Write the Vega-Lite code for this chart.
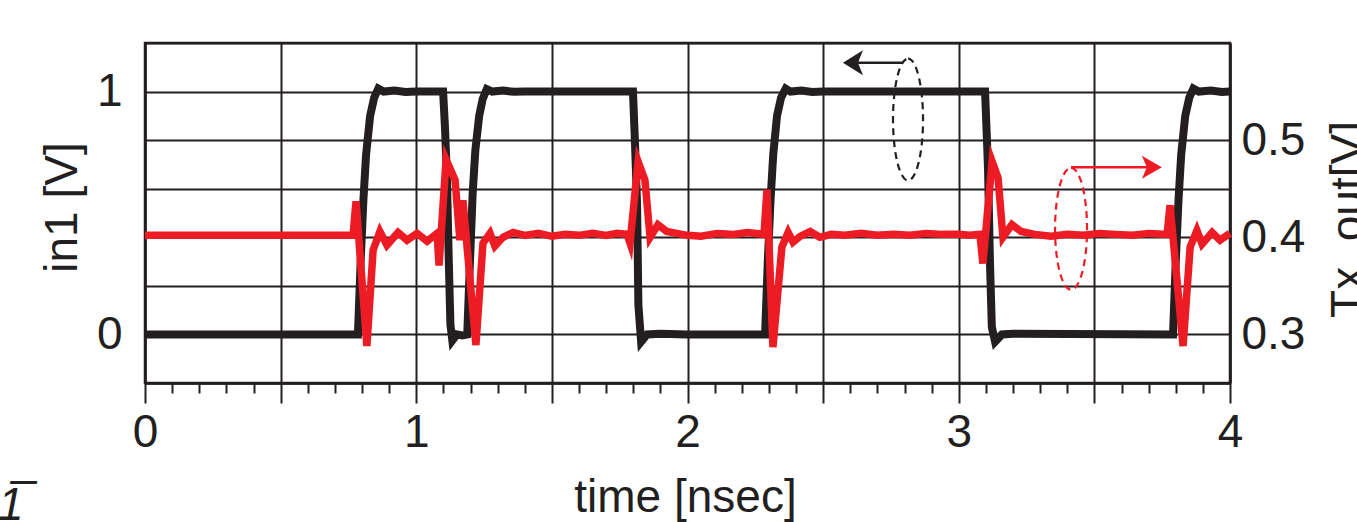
{
  "$schema": "https://vega.github.io/schema/vega-lite/v6.json",
  "width": 1085,
  "height": 340,
  "autosize": {"type": "none"},
  "padding": {"left": 145, "top": 43, "right": 127, "bottom": 139},
  "background": "white",
  "title": {"text": "1̅", "orient": "bottom", "anchor": "start", "frame": "group", "offset": -36, "dx": -147, "fontSize": 46, "fontStyle": "italic", "fontWeight": "normal", "color": "#231f20", "font": "Liberation Sans", "baseline": "top"},
  "datasets": {
    "in1": [
      {"t": 0, "v": 0}, {"t": 0.4, "v": 0}, {"t": 0.785, "v": 0}, {"t": 0.795, "v": 0.3}, {"t": 0.805, "v": 0.55},
      {"t": 0.815, "v": 0.74}, {"t": 0.83, "v": 0.9}, {"t": 0.845, "v": 0.975}, {"t": 0.86, "v": 1.012}, {"t": 0.88, "v": 1.0},
      {"t": 0.92, "v": 1.004}, {"t": 0.96, "v": 0.998}, {"t": 1.0, "v": 1.0}, {"t": 1.05, "v": 1.0}, {"t": 1.099, "v": 1.0},
      {"t": 1.106, "v": 0.85}, {"t": 1.113, "v": 0.65}, {"t": 1.12, "v": 0.3}, {"t": 1.126, "v": 0.04}, {"t": 1.133, "v": -0.025},
      {"t": 1.15, "v": 0.0}, {"t": 1.17, "v": -0.004}, {"t": 1.188, "v": 0}, {"t": 1.198, "v": 0.3}, {"t": 1.208, "v": 0.58},
      {"t": 1.218, "v": 0.76}, {"t": 1.232, "v": 0.9}, {"t": 1.245, "v": 0.97}, {"t": 1.26, "v": 1.01}, {"t": 1.28, "v": 1.0},
      {"t": 1.32, "v": 1.004}, {"t": 1.36, "v": 0.999}, {"t": 1.4, "v": 1.0}, {"t": 1.6, "v": 1.0}, {"t": 1.799, "v": 1.0},
      {"t": 1.806, "v": 0.8}, {"t": 1.814, "v": 0.54}, {"t": 1.819, "v": 0.12}, {"t": 1.829, "v": -0.03}, {"t": 1.851, "v": 0.0},
      {"t": 1.9, "v": 0.003}, {"t": 2.0, "v": 0}, {"t": 2.286, "v": 0}, {"t": 2.296, "v": 0.3}, {"t": 2.306, "v": 0.55},
      {"t": 2.316, "v": 0.74}, {"t": 2.33, "v": 0.9}, {"t": 2.345, "v": 0.975}, {"t": 2.362, "v": 1.012}, {"t": 2.38, "v": 1.0},
      {"t": 2.42, "v": 1.004}, {"t": 2.46, "v": 0.998}, {"t": 2.5, "v": 1.0}, {"t": 3.097, "v": 1.0}, {"t": 3.104, "v": 0.8},
      {"t": 3.108, "v": 0.68}, {"t": 3.115, "v": 0.3}, {"t": 3.122, "v": 0.03}, {"t": 3.134, "v": -0.03}, {"t": 3.159, "v": 0.0},
      {"t": 3.2, "v": 0.003}, {"t": 3.79, "v": 0}, {"t": 3.8, "v": 0.3}, {"t": 3.81, "v": 0.55}, {"t": 3.82, "v": 0.74},
      {"t": 3.835, "v": 0.9}, {"t": 3.85, "v": 0.975}, {"t": 3.865, "v": 1.012}, {"t": 3.885, "v": 1.0}, {"t": 3.93, "v": 1.004},
      {"t": 3.97, "v": 0.998}, {"t": 4.0, "v": 1.0}
    ],
    "tx": [
      {"t": 0, "v": 0.402}, {"t": 0.3, "v": 0.402}, {"t": 0.6, "v": 0.402}, {"t": 0.767, "v": 0.402}, {"t": 0.778, "v": 0.437},
      {"t": 0.818, "v": 0.288}, {"t": 0.841, "v": 0.387}, {"t": 0.866, "v": 0.406}, {"t": 0.892, "v": 0.392}, {"t": 0.933, "v": 0.405},
      {"t": 0.966, "v": 0.397}, {"t": 1.003, "v": 0.404}, {"t": 1.04, "v": 0.396}, {"t": 1.077, "v": 0.404}, {"t": 1.084, "v": 0.371},
      {"t": 1.11, "v": 0.48}, {"t": 1.143, "v": 0.459}, {"t": 1.161, "v": 0.397}, {"t": 1.172, "v": 0.438}, {"t": 1.22, "v": 0.289},
      {"t": 1.246, "v": 0.394}, {"t": 1.272, "v": 0.404}, {"t": 1.29, "v": 0.391}, {"t": 1.32, "v": 0.4}, {"t": 1.357, "v": 0.405},
      {"t": 1.4, "v": 0.402}, {"t": 1.45, "v": 0.404}, {"t": 1.5, "v": 0.401}, {"t": 1.55, "v": 0.403}, {"t": 1.6, "v": 0.402},
      {"t": 1.65, "v": 0.404}, {"t": 1.7, "v": 0.402}, {"t": 1.74, "v": 0.404}, {"t": 1.777, "v": 0.403}, {"t": 1.788, "v": 0.394},
      {"t": 1.818, "v": 0.478}, {"t": 1.843, "v": 0.459}, {"t": 1.862, "v": 0.4}, {"t": 1.891, "v": 0.413}, {"t": 1.924, "v": 0.406},
      {"t": 1.96, "v": 0.404}, {"t": 2.0, "v": 0.402}, {"t": 2.05, "v": 0.401}, {"t": 2.11, "v": 0.404}, {"t": 2.17, "v": 0.403},
      {"t": 2.22, "v": 0.405}, {"t": 2.282, "v": 0.403}, {"t": 2.293, "v": 0.449}, {"t": 2.315, "v": 0.287}, {"t": 2.348, "v": 0.39},
      {"t": 2.371, "v": 0.405}, {"t": 2.389, "v": 0.395}, {"t": 2.415, "v": 0.401}, {"t": 2.452, "v": 0.406}, {"t": 2.488, "v": 0.4},
      {"t": 2.53, "v": 0.403}, {"t": 2.58, "v": 0.402}, {"t": 2.64, "v": 0.404}, {"t": 2.7, "v": 0.402}, {"t": 2.76, "v": 0.403},
      {"t": 2.82, "v": 0.402}, {"t": 2.88, "v": 0.404}, {"t": 2.94, "v": 0.403}, {"t": 3.0, "v": 0.403}, {"t": 3.04, "v": 0.402},
      {"t": 3.078, "v": 0.403}, {"t": 3.089, "v": 0.373}, {"t": 3.123, "v": 0.478}, {"t": 3.145, "v": 0.461}, {"t": 3.163, "v": 0.4},
      {"t": 3.196, "v": 0.413}, {"t": 3.23, "v": 0.406}, {"t": 3.28, "v": 0.403}, {"t": 3.34, "v": 0.401}, {"t": 3.4, "v": 0.403},
      {"t": 3.46, "v": 0.402}, {"t": 3.52, "v": 0.404}, {"t": 3.58, "v": 0.403}, {"t": 3.64, "v": 0.402}, {"t": 3.7, "v": 0.404},
      {"t": 3.768, "v": 0.403}, {"t": 3.779, "v": 0.433}, {"t": 3.827, "v": 0.288}, {"t": 3.853, "v": 0.39}, {"t": 3.878, "v": 0.407},
      {"t": 3.897, "v": 0.393}, {"t": 3.934, "v": 0.405}, {"t": 3.963, "v": 0.397}, {"t": 4.0, "v": 0.404}
    ]
  },
  "layer": [
    {
      "data": {"name": "in1"},
      "mark": {"type": "line", "color": "#231f20", "strokeWidth": 8, "strokeJoin": "miter", "strokeMiterLimit": 10},
      "encoding": {
        "x": {"field": "t", "type": "quantitative", "scale": {"domain": [0, 4]},
          "axis": {"orient": "bottom", "values": [0, 0.5, 1, 1.5, 2, 2.5, 3, 3.5, 4], "labelExpr": "datum.value % 1 === 0 ? format(datum.value, 'd') : ''", "grid": true, "tickSize": 20, "labelPadding": 7, "title": "time [nsec]", "titlePadding": 20, "titleX": 540}},
        "y": {"field": "v", "type": "quantitative", "scale": {"domain": [-0.2, 1.2]},
          "axis": {"orient": "left", "values": [-0.2, 0, 0.2, 0.4, 0.6, 0.8, 1, 1.2], "labelExpr": "datum.value === 0 ? '0' : datum.value === 1 ? '1' : ''", "grid": true, "ticks": false, "tickSize": 0, "labelPadding": 23, "title": "in1 [V]", "titlePadding": 10, "titleY": 164}}
      }
    },
    {
      "data": {"name": "tx"},
      "mark": {"type": "line", "color": "#ed1c24", "strokeWidth": 7.5, "strokeJoin": "miter", "strokeMiterLimit": 10},
      "encoding": {
        "x": {"field": "t", "type": "quantitative",
          "axis": {"orient": "bottom", "values": [0.1, 0.2, 0.3, 0.4, 0.6, 0.7, 0.8, 0.9, 1.1, 1.2, 1.3, 1.4, 1.6, 1.7, 1.8, 1.9, 2.1, 2.2, 2.3, 2.4, 2.6, 2.7, 2.8, 2.9, 3.1, 3.2, 3.3, 3.4, 3.6, 3.7, 3.8, 3.9], "labels": false, "domain": false, "grid": false, "tickSize": 10, "title": null}},
        "y": {"field": "v", "type": "quantitative", "scale": {"domain": [0.25, 0.6]},
          "axis": {"orient": "right", "values": [0.3, 0.4, 0.5], "format": ".1f", "grid": false, "ticks": false, "tickSize": 0, "labelPadding": 11, "title": "Tx_out[V]", "titleAngle": 270, "titleBaseline": "top", "titlePadding": 22, "titleY": 176}}
      }
    },
    {
      "data": {"values": [{}]},
      "mark": {"type": "point", "shape": "M 0 -1 C 0.136 -1 0.246 -0.552 0.246 0 C 0.246 0.552 0.136 1 0 1 C -0.136 1 -0.246 0.552 -0.246 0 C -0.246 -0.552 -0.136 -1 0 -1 Z", "size": 14884, "filled": false, "stroke": "#231f20", "strokeWidth": 2.2, "strokeDash": [7, 5], "opacity": 1},
      "encoding": {"x": {"datum": 2.813, "type": "quantitative", "axis": null}, "y": {"datum": 0.885, "type": "quantitative", "scale": {"domain": [-0.2, 1.2]}, "axis": null}}
    },
    {
      "data": {"values": [{}]},
      "mark": {"type": "rule", "color": "#231f20", "strokeWidth": 2.5},
      "encoding": {"x": {"datum": 2.795, "type": "quantitative", "axis": null}, "x2": {"datum": 2.62}, "y": {"datum": 1.119, "type": "quantitative", "scale": {"domain": [-0.2, 1.2]}, "axis": null}}
    },
    {
      "data": {"values": [{}]},
      "mark": {"type": "point", "shape": "M -1 0 L 1 -1.25 L 0.5 0 L 1 1.25 Z", "size": 400, "filled": true, "color": "#231f20", "opacity": 1, "strokeWidth": 0},
      "encoding": {"x": {"datum": 2.61, "type": "quantitative", "axis": null}, "y": {"datum": 1.119, "type": "quantitative", "scale": {"domain": [-0.2, 1.2]}, "axis": null}}
    },
    {
      "data": {"values": [{}]},
      "mark": {"type": "point", "shape": "M 0 -1 C 0.145 -1 0.262 -0.552 0.262 0 C 0.262 0.552 0.145 1 0 1 C -0.145 1 -0.262 0.552 -0.262 0 C -0.262 -0.552 -0.145 -1 0 -1 Z", "size": 14884, "filled": false, "stroke": "#ed1c24", "strokeWidth": 2.2, "strokeDash": [7, 5], "opacity": 1},
      "encoding": {"x": {"datum": 3.414, "type": "quantitative", "axis": null}, "y": {"datum": 0.4087, "type": "quantitative", "scale": {"domain": [0.25, 0.6]}, "axis": null}}
    },
    {
      "data": {"values": [{}]},
      "mark": {"type": "rule", "color": "#ed1c24", "strokeWidth": 2.5},
      "encoding": {"x": {"datum": 3.414, "type": "quantitative", "axis": null}, "x2": {"datum": 3.705}, "y": {"datum": 0.472, "type": "quantitative", "scale": {"domain": [0.25, 0.6]}, "axis": null}}
    },
    {
      "data": {"values": [{}]},
      "mark": {"type": "point", "shape": "M 1 0 L -1 -1.15 L -0.5 0 L -1 1.15 Z", "size": 400, "filled": true, "color": "#ed1c24", "opacity": 1, "strokeWidth": 0},
      "encoding": {"x": {"datum": 3.712, "type": "quantitative", "axis": null}, "y": {"datum": 0.472, "type": "quantitative", "scale": {"domain": [0.25, 0.6]}, "axis": null}}
    }
  ],
  "resolve": {"scale": {"y": "independent"}, "axis": {"x": "independent"}},
  "config": {
    "font": "Liberation Sans",
    "view": {"stroke": "#231f20", "strokeWidth": 2.5},
    "axis": {
      "labelFont": "Liberation Sans", "labelFontSize": 46, "labelColor": "#231f20",
      "titleFont": "Liberation Sans", "titleFontSize": 46, "titleFontWeight": "normal", "titleColor": "#231f20",
      "domainColor": "#231f20", "domainWidth": 2.5, "tickColor": "#231f20", "tickWidth": 2,
      "gridColor": "#231f20", "gridWidth": 2, "gridOpacity": 1, "labelOverlap": false, "labelFlush": false
    }
  }
}
